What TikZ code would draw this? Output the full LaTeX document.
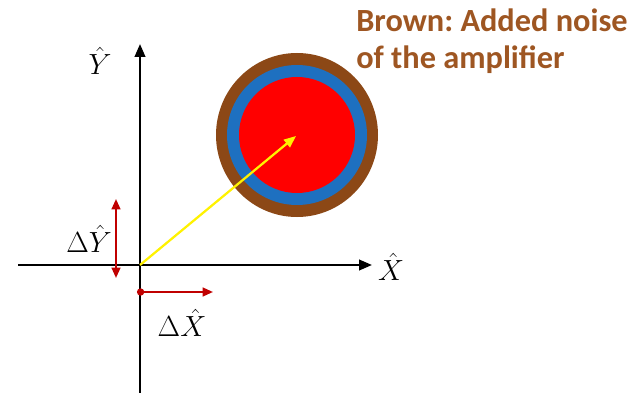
\documentclass[tikz,border=0pt]{standalone}
\usepackage{fontspec}
\setsansfont{Carlito}
\usetikzlibrary{arrows.meta,positioning}
\definecolor{noisebrown}{RGB}{140,72,22}
\definecolor{textbrown}{RGB}{158,86,34}
\definecolor{ringblue}{RGB}{30,112,192}
\definecolor{deltared}{RGB}{192,0,0}
\tikzset{
  axis/.style={-{Triangle[length=3.2mm,width=2.6mm]},line width=1.6pt},
  delta/.style={draw=deltared,line width=1.4pt},
  lbl/.style={font=\fontsize{20}{23}\selectfont,inner sep=0pt},
  note/.style={font=\sffamily\bfseries\fontsize{23}{26}\selectfont,text=textbrown,align=left,inner sep=0pt}
}
\frenchspacing
\begin{document}
\begin{tikzpicture}[x=0.025cm,y=-0.025cm]
  \useasboundingbox (0,0) rectangle (644,393);
  \coordinate (O) at (140,265);
  \coordinate (xl) at (18,265);
  \coordinate (xr) at (372,265);
  \coordinate (yb) at (140,393);
  \coordinate (yt) at (140,44);
  \coordinate (C) at (297,135);

  % noise disc
  \fill[noisebrown] (C) ellipse [x radius=81, y radius=82];
  \fill[ringblue] (C) ellipse [x radius=70, y radius=70];
  \fill[red] (C) ellipse [x radius=58, y radius=58];

  % axes
  \draw[axis] (xl) -- (xr);
  \draw[axis] (yb) -- (yt);
  \node[lbl] (xlab) at (391,267) {$\hat{X}$};
  \node[lbl] (ylab) at (100,61) {$\hat{Y}$};

  % state vector
  \draw[-{Triangle[length=3mm,width=2.4mm]},yellow,line width=1.6pt] (O) -- (296,136);

  % quadrature fluctuations
  \coordinate (dyb) at (116,278);
  \coordinate (dyt) at (116,199);
  \coordinate (dxl) at (137,292);
  \coordinate (dxr) at (213,292);
  \draw[delta,{Triangle[length=2.6mm,width=2.2mm]}-{Triangle[length=2.6mm,width=2.2mm]}] (dyb) -- (dyt);
  \draw[delta,{Circle[length=1.8mm]}-{Triangle[length=2.6mm,width=2.2mm]}] (dxl) -- (dxr);
  \node[lbl] (dylab) at (89,239) {$\Delta\hat{Y}$};
  \node[lbl] (dxlab) at (182,323) {$\Delta\hat{X}$};

  \node[note,anchor=north west] (brown) at (356,9) {Brown: Added noise\\of the amplifier};
\end{tikzpicture}
\end{document}
